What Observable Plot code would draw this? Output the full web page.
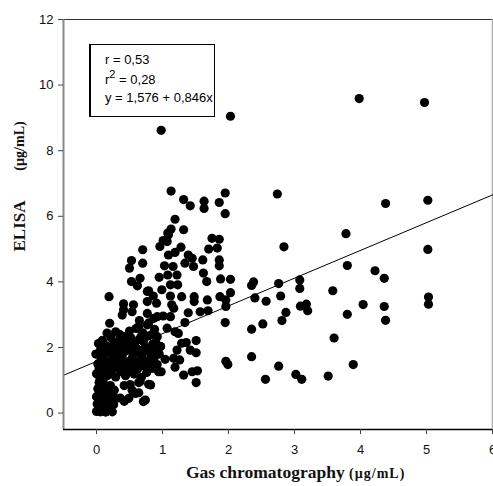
<!DOCTYPE html>
<html><head><meta charset="utf-8">
<script src="https://cdn.jsdelivr.net/npm/d3@7"></script>
<script src="https://cdn.jsdelivr.net/npm/@observablehq/plot@0.6"></script>
<style>
body{margin:0;background:#fff}
#chart{position:relative;width:493px;height:486px;overflow:hidden}
</style>
</head><body><div id="chart"></div>
<script>
// Axis ticks
const xTicks = [0, 1, 2, 3, 4, 5, 6];
const yTicks = [0, 2, 4, 6, 8, 10, 12];

// Regression statistics (as printed on the chart)
const statsLines = ["r = 0,53", "r2 = 0,28", "y = 1,576 + 0,846x"];
const intercept = 1.576;
const slope = 0.846;

// Points: [gas chromatography (µg/mL), ELISA (µg/mL)]
const lowCluster = [
  [0.00,0.05],[0.03,0.14],[0.06,0.04],[0.10,0.10],[0.14,0.03],[0.19,0.08],[0.24,0.04],
  [0.01,0.28],[0.05,0.35],[0.09,0.24],[0.13,0.31],[0.17,0.22],[0.21,0.33],[0.26,0.26],
  [0.00,0.50],[0.04,0.58],[0.08,0.46],[0.12,0.55],[0.17,0.48],[0.23,0.56],[0.29,0.44],
  [0.02,0.74],[0.07,0.82],[0.11,0.68],[0.16,0.76],[0.21,0.84],[0.27,0.70],[0.04,0.93],[0.10,0.98]
];
const midLow = [
  [0.36,0.46],[0.42,0.36],[0.49,0.45],[0.54,0.70],[0.59,0.60],[0.64,0.62],[0.71,0.35],[0.74,0.40],
  [0.42,0.84],[0.51,0.87],[0.64,0.93],[0.82,0.86],[0.79,0.88],[0.66,0.96],[0.94,1.26],[0.84,1.36]
];
const mainBlob = [
  [0.00,1.20],[0.05,1.08],[0.10,1.24],[0.16,1.14],[0.22,1.20],[0.29,1.10],[0.37,1.26],[0.44,1.14],[0.49,1.26],[0.57,1.19],[0.68,1.09],[0.76,1.24],
  [0.02,1.50],[0.07,1.62],[0.12,1.44],[0.18,1.56],[0.24,1.66],[0.30,1.48],[0.35,1.60],[0.41,1.45],[0.47,1.56],[0.54,1.68],[0.60,1.49],[0.66,1.60],[0.72,1.44],[0.80,1.55],[0.87,1.66],[0.92,1.48],
  [-0.01,1.80],[0.06,1.92],[0.10,1.75],[0.16,1.86],[0.21,2.00],[0.27,1.79],[0.33,1.95],[0.39,1.76],[0.45,1.90],[0.50,2.02],[0.56,1.80],[0.62,1.95],[0.68,1.79],[0.74,2.01],[0.80,1.86],[0.86,1.96],[0.95,1.80],
  [0.03,2.12],[0.09,2.22],[0.14,2.06],[0.22,2.30],[0.30,2.15],[0.36,2.25],[0.44,2.10],[0.52,2.30],[0.58,2.14],[0.65,2.26],[0.71,2.18],[0.78,2.35],[0.85,2.10],[0.92,2.33],[0.97,2.03],
  [0.26,1.36],[0.40,1.34],[0.62,1.34],[0.12,1.98],[0.47,2.20],[0.90,2.15],[0.04,1.36],
  [0.33,1.72],[0.52,1.40],[0.70,1.65],[0.83,1.72],[0.58,1.90],[0.40,2.05],[0.26,2.10],[0.75,1.90],
  [0.90,1.90],[0.55,1.55],[0.18,1.30],[0.68,2.35],[0.84,2.40],[0.35,2.40],
  [0.16,2.44],[0.29,2.48],[0.41,2.33],[0.20,2.74],[0.50,2.50],[0.60,2.58],[0.64,2.64],[0.79,2.75],[0.70,2.45],[0.88,2.55],[0.77,2.69],[0.65,2.82]
];
const upperLeft = [
  [0.70,4.98],[0.96,5.08],[1.01,5.26],[1.08,5.49],[0.53,4.65],[0.50,4.42],[0.70,4.57],[0.53,4.01],[0.66,4.11],[0.62,3.88],
  [0.95,4.14],[0.79,3.73],[0.86,3.57],[0.91,3.35],[0.77,3.40],[0.19,3.55],[0.41,3.33],[0.41,3.15],[0.39,2.99],[0.56,3.30],
  [0.54,3.09],[0.77,3.04],[0.87,2.89],[0.92,2.94],[0.77,3.71],[0.99,3.76]
];
const midBand = [
  [1.13,6.77],[1.32,6.51],[1.42,6.32],[1.63,6.46],[1.63,6.24],[1.86,6.42],[1.95,6.71],[1.95,6.08],
  [1.19,5.91],[1.13,5.61],[1.32,5.59],[1.09,5.44],[1.07,5.23],[1.75,5.33],[1.86,5.30],[1.70,5.00],[1.83,5.03],
  [1.28,5.06],[1.19,4.90],[1.09,4.82],[1.39,4.82],[1.45,4.72],[1.34,4.57],[1.47,4.47],[1.61,4.67],[1.86,4.67],
  [1.86,4.49],[1.03,4.49],[1.16,4.47],[1.08,4.21],[1.22,4.21],[1.62,4.27],[1.67,4.01],[1.88,4.09],[2.03,4.08],
  [1.12,3.91],[1.23,3.91],[2.03,3.67],[1.87,3.55],[1.96,3.45],[1.12,3.57],[1.29,3.55],[1.48,3.55],[1.48,3.40],
  [1.68,3.45],[1.14,3.30],[1.96,3.25],[1.39,3.06],[1.57,3.09],[1.69,3.12],[1.01,2.96],[1.12,2.94],[1.34,2.76],
  [1.95,2.76],[1.07,2.59],[1.19,2.48],[1.17,3.20],[1.24,2.43],[1.29,2.13],[1.36,2.15],[1.51,2.21],[1.42,1.92],
  [1.51,1.84],[1.22,1.92],[1.04,1.64],[1.17,1.67],[1.26,1.62],[1.19,1.40],[0.98,1.26],[1.32,1.16],[1.45,1.26],
  [1.53,1.29],[1.51,0.93],[0.97,2.03],[1.96,1.58],[1.99,1.48]
];
const rightSpread = [
  [0.98,8.62],[2.03,9.05],[3.98,9.59],[4.97,9.47],[2.74,6.68],[4.38,6.39],[5.02,6.49],[3.78,5.47],[2.84,5.07],[5.02,4.99],
  [3.80,4.50],[4.22,4.34],[4.36,4.11],[2.38,4.00],[2.35,3.89],[2.76,3.95],[3.08,4.06],[3.08,3.80],[3.58,3.73],
  [2.40,3.51],[2.57,3.41],[2.79,3.57],[5.03,3.54],[5.03,3.32],[4.04,3.31],[4.36,3.25],[3.09,3.26],[3.18,3.32],
  [3.20,3.12],[2.87,3.07],[2.81,2.82],[3.80,3.01],[4.38,2.83],[2.35,2.56],[2.52,2.72],[3.60,2.29],[2.35,1.72],
  [2.76,1.43],[3.89,1.48],[2.56,1.03],[3.02,1.18],[3.11,1.03],[3.51,1.13]
];

const points = [...lowCluster, ...midLow, ...mainBlob, ...upperLeft, ...midBand, ...rightSpread];
const regLine = [-0.5, 6].map(x => ({x, y: intercept + slope * x}));

const plot = Plot.plot({
  width: 493, height: 486,
  marginLeft: 63, marginRight: 1, marginTop: 19, marginBottom: 57,
  x: {domain: [-0.5, 6]},
  y: {domain: [-0.5, 12]},
  style: {fontFamily: "'Liberation Sans', Arial, sans-serif", fontSize: "13px", color: "#111", background: "#fff"},
  marks: [
    Plot.ruleY([12], {stroke: "#333", strokeWidth: 1.2}),
    Plot.ruleX([6], {stroke: "#aaa", strokeWidth: 1.5}),
    Plot.line(regLine, {x: "x", y: "y", stroke: "#000", strokeWidth: 1}),
    Plot.dot(points, {x: d => d[0], y: d => d[1], r: 4.6, fill: "#000", stroke: "none"}),
    Plot.ruleX([-0.5], {stroke: "#888", strokeWidth: 2}),
    Plot.ruleY([-0.5], {stroke: "#000", strokeWidth: 1.5}),
    Plot.axisY({ticks: yTicks, tickSize: 5, tickPadding: 5, label: null, stroke: "#444", tickFormat: d => String(d)}),
    Plot.axisX({ticks: xTicks, tickSize: 5, tickPadding: 10, label: null, stroke: "#444", tickFormat: d => String(d)})
  ]
});
document.getElementById("chart").appendChild(plot);

// Annotations: stats box and axis titles
const svg = d3.select(plot);
const g = svg.append("g").attr("text-anchor", "start");
g.append("rect").attr("x", 89.5).attr("y", 44.5).attr("width", 125).attr("height", 72)
  .attr("fill", "#fff").attr("stroke", "#000").attr("stroke-width", 1);
g.append("line").attr("x1", 90).attr("x2", 90).attr("y1", 44).attr("y2", 117)
  .attr("stroke", "#000").attr("stroke-width", 2);
const sf = "'Liberation Sans', Arial, sans-serif";
g.append("text").attr("x", 105).attr("y", 64).attr("font-family", sf).attr("font-size", 13).attr("fill", "#000").text(statsLines[0]);
const t2 = g.append("text").attr("x", 105).attr("y", 84).attr("font-family", sf).attr("font-size", 13).attr("fill", "#000");
t2.append("tspan").text("r");
t2.append("tspan").attr("font-size", 11).attr("dy", -6).text("2");
t2.append("tspan").attr("dy", 6).text(" = 0,28");
g.append("text").attr("x", 105).attr("y", 102).attr("font-family", sf).attr("font-size", 13).attr("fill", "#000").text(statsLines[2]);

const serif = "'Liberation Serif', 'Times New Roman', serif";
const xt = svg.append("text").attr("x", 186).attr("y", 478).attr("text-anchor", "start").attr("font-family", serif)
  .attr("font-weight", "bold").attr("fill", "#111");
xt.append("tspan").attr("font-size", 17.5).text("Gas chromatography ");
xt.append("tspan").attr("font-size", 14).attr("letter-spacing", 1).text("(µg/mL)");

svg.append("text").attr("transform", "translate(25,226) rotate(-90)").attr("text-anchor", "middle")
  .attr("font-family", serif).attr("font-weight", "bold").attr("font-size", 17).attr("fill", "#111").text("ELISA");
svg.append("text").attr("transform", "translate(24,146) rotate(-90)").attr("text-anchor", "middle")
  .attr("font-family", serif).attr("font-weight", "bold").attr("font-size", 14).attr("fill", "#111").text("(µg/mL)");
</script>
</body></html>
